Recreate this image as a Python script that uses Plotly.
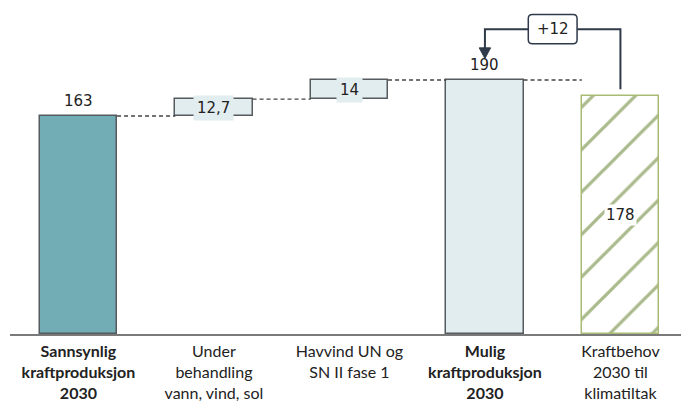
import plotly.graph_objects as go

# Category labels (bold for the two totals)
categories = [
    "<b>Sannsynlig<br>kraftproduksjon<br>2030</b>",
    "Under<br>behandling<br>vann, vind, sol",
    "Havvind UN og<br>SN II fase 1",
    "<b>Mulig<br>kraftproduksjon<br>2030</b>",
    "Kraftbehov<br>2030 til<br>klimatiltak",
]
# TWh values
start_total = 163
steps = [12.7, 14]
step_labels = ["12,7", "14"]
possible_total = 190
demand = 178

x = list(range(len(categories)))
bar_w = 0.57
border = "#555b5f"
light = "#e2edf0"
teal = "#72adb5"
green = "#55761a"
dark = "#2f3a4a"
num_font = dict(family="DejaVu Sans", size=15, color="#222222")

fig = go.Figure()

# Starting total
fig.add_trace(go.Bar(x=[x[0]], y=[start_total], width=bar_w,
                     marker=dict(color=teal, line=dict(color=border, width=1.5))))

# Floating step bars
bases = []
level = start_total
for v in steps:
    bases.append(level)
    level += v
fig.add_trace(go.Bar(x=x[1:3], y=steps, base=bases, width=bar_w,
                     marker=dict(color=light, line=dict(color=border, width=1.5))))

# Possible total
fig.add_trace(go.Bar(x=[x[3]], y=[possible_total], width=bar_w,
                     marker=dict(color=light, line=dict(color=border, width=1.5))))

# Demand (hatched)
fig.add_trace(go.Bar(x=[x[4]], y=[demand], width=bar_w,
                     marker=dict(color="white", line=dict(color="#a7bb72", width=1.5),
                                 pattern=dict(shape="/", fgcolor=green, bgcolor="white",
                                              size=30, solidity=0.11))))

# Dashed connectors between bars
tops = [start_total, bases[1], possible_total, possible_total]
for i, yv in enumerate(tops):
    fig.add_shape(type="line", xref="x", yref="y",
                  x0=x[i] + bar_w / 2, x1=x[i + 1] - bar_w / 2, y0=yv, y1=yv,
                  line=dict(color="#444444", width=1.4, dash="4px,3px"))

# Value labels
fig.add_annotation(x=x[0], y=start_total, text=str(start_total), showarrow=False,
                   yanchor="bottom", yshift=4, font=num_font)
for i, (b, v, t) in enumerate(zip(bases, steps, step_labels)):
    fig.add_annotation(x=x[1 + i], y=b + v / 2, text=t, showarrow=False,
                       bgcolor=light, font=num_font, borderpad=3)
fig.add_annotation(x=x[3], y=possible_total, text=str(possible_total), showarrow=False,
                   yanchor="bottom", yshift=4, font=num_font)
fig.add_annotation(x=x[4], y=demand / 2, text=str(demand), showarrow=False,
                   bgcolor="white", font=num_font, borderpad=1)

# Bracket arrow from demand bar back to the possible total
bracket_y = possible_total + 38
tip_y = possible_total + 16
fig.add_shape(type="path", xref="x", yref="y",
              path=f"M {x[4]},{demand + 5} L {x[4]},{bracket_y} L {x[3]},{bracket_y} L {x[3]},{tip_y + 6}",
              line=dict(color=dark, width=2))
hw = 0.042
fig.add_shape(type="path", xref="x", yref="y",
              path=f"M {x[3] - hw},{tip_y + 8} L {x[3] + hw},{tip_y + 8} L {x[3]},{tip_y} Z",
              fillcolor=dark, line=dict(color=dark, width=1))

# Rounded label box for the difference
diff = possible_total - demand
cx = (x[3] + x[4]) / 2
bx0, bx1 = cx - 0.18, cx + 0.18
by0, by1 = bracket_y - 11, bracket_y + 11
rx, ry = 0.03, 3
fig.add_shape(type="path", xref="x", yref="y",
              path=(f"M {bx0 + rx},{by0} L {bx1 - rx},{by0} Q {bx1},{by0} {bx1},{by0 + ry} "
                    f"L {bx1},{by1 - ry} Q {bx1},{by1} {bx1 - rx},{by1} "
                    f"L {bx0 + rx},{by1} Q {bx0},{by1} {bx0},{by1 - ry} "
                    f"L {bx0},{by0 + ry} Q {bx0},{by0} {bx0 + rx},{by0} Z"),
              fillcolor="white", line=dict(color=dark, width=1.5))
fig.add_annotation(x=cx, y=bracket_y, text=f"+{diff}", showarrow=False, font=num_font)

fig.update_layout(
    width=681, height=403,
    margin=dict(l=10, r=0, t=0, b=69),
    paper_bgcolor="white", plot_bgcolor="white",
    showlegend=False, bargap=0,
    xaxis=dict(range=[-0.505, 4.447], tickvals=x, ticktext=categories,
               showline=True, linecolor="#7a7a7a", linewidth=2, ticks="",
               showgrid=False, zeroline=False, ticklabelstandoff=2,
               tickfont=dict(family="Lato", size=16, color="#222222")),
    yaxis=dict(range=[0, 249.8], visible=False, showgrid=False),
)

fig.write_html("out.html")
